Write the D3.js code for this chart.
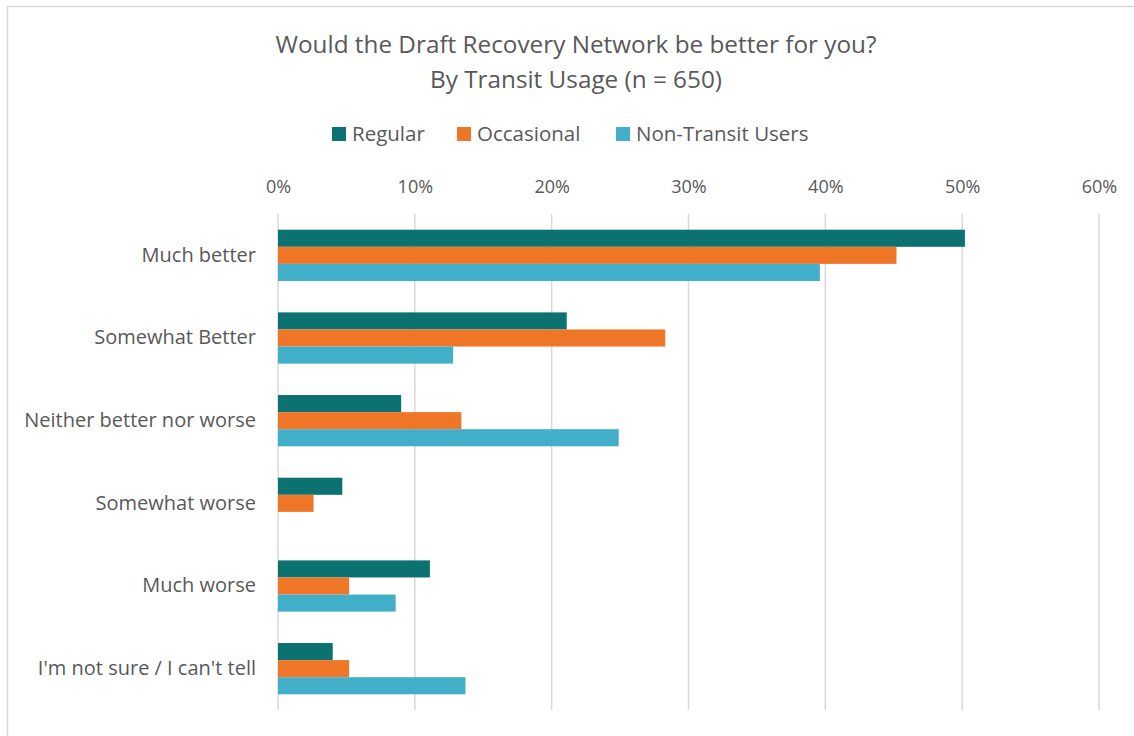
<!DOCTYPE html>
<html>
<head>
<meta charset="UTF-8">
<title>Draft Recovery Network by Transit Usage</title>
<script src="https://d3js.org/d3.v7.min.js"></script>
<style>
body { margin: 0; background: #fff; }
text { font-family: "Open Sans", "Noto Sans", sans-serif; fill: #595959; }
</style>
</head>
<body>
<div id="chart"></div>
<script>

// data

var categories = ["Much better", "Somewhat Better", "Neither better nor worse",
                  "Somewhat worse", "Much worse", "I'm not sure / I can't tell"]
var seriesNames = ["Regular", "Occasional", "Non-Transit Users"]
var regular    = [0.502, 0.211, 0.090, 0.047, 0.111, 0.040]
var occasional = [0.452, 0.283, 0.134, 0.026, 0.052, 0.052]
var nonTransit = [0.396, 0.128, 0.249, 0.000, 0.086, 0.137]
var xTicks     = [0, 0.1, 0.2, 0.3, 0.4, 0.5, 0.6]
var colours    = ["#0b7171", "#ef7627", "#42afc8"]

var width  = 1134
var height = 736
var plotLeft = 278, plotRight = 1099, plotTop = 214, plotBottom = 710

var svg = d3.select("#chart").append("svg")
	.attr("width", width)
	.attr("height", height)

// frame
svg.append("path")
	.attr("d", "M7.5," + height + "V6.5H" + width)
	.attr("fill", "none")
	.attr("stroke", "#d9d9d9")
	.attr("stroke-width", 1.5)

var x = d3.scaleLinear().domain([0, 0.6]).range([plotLeft, plotRight])
var y = d3.scaleBand().domain(categories).range([plotTop, plotBottom]).paddingInner(0.38).paddingOuter(0.19)
var ySub = d3.scaleBand().domain(seriesNames).range([0, y.bandwidth()])

// gridlines
svg.append("g").selectAll("line")
	.data(xTicks).enter()
	.append("line")
	.attr("x1", function(d) { return x(d) })
	.attr("x2", function(d) { return x(d) })
	.attr("y1", plotTop)
	.attr("y2", plotBottom)
	.attr("stroke", "#d9d9d9")
	.attr("stroke-width", 1.5)

// top axis labels
var xAxis = d3.axisTop(x).tickValues(xTicks).tickFormat(d3.format(".0%")).tickSize(0).tickPadding(0)
var gx = svg.append("g").attr("transform", "translate(0,193)").call(xAxis)
gx.select(".domain").remove()
gx.selectAll("text").style("font-size", "18px").attr("fill", "#595959")

// category labels
var yAxis = d3.axisLeft(y).tickSize(0).tickPadding(22)
var gy = svg.append("g").attr("transform", "translate(" + plotLeft + ",0)").call(yAxis)
gy.select(".domain").remove()
gy.selectAll("text").style("font-size", "20px").attr("fill", "#595959")

// bars
var rows = categories.map(function(c, i) {
	return { cat: c, vals: [regular[i], occasional[i], nonTransit[i]] }
})

var groups = svg.selectAll(".cat")
	.data(rows).enter()
	.append("g")
	.attr("class", "cat")
	.attr("transform", function(d) { return "translate(0," + y(d.cat) + ")" })

groups.selectAll("rect")
	.data(function(d) { return d.vals.map(function(v, j) { return { name: seriesNames[j], v: v, j: j } }) })
	.enter()
	.append("rect")
	.attr("x", x(0))
	.attr("y", function(d) { return ySub(d.name) })
	.attr("height", ySub.bandwidth())
	.attr("width", function(d) { return x(d.v) - x(0) })
	.attr("fill", function(d) { return colours[d.j] })

// title
svg.append("text")
	.attr("x", 576).attr("y", 53)
	.attr("text-anchor", "middle")
	.style("font-size", "24.3px")
	.text("Would the Draft Recovery Network be better for you?")
svg.append("text")
	.attr("x", 576).attr("y", 88)
	.attr("text-anchor", "middle")
	.style("font-size", "24.3px")
	.text("By Transit Usage (n = 650)")

// legend
var legendX = [332, 457, 616]
var legend = svg.selectAll(".legend")
	.data(seriesNames).enter()
	.append("g")
	.attr("class", "legend")
	.attr("transform", function(d, i) { return "translate(" + legendX[i] + ",134)" })
legend.append("rect")
	.attr("x", 0).attr("y", -7)
	.attr("width", 14).attr("height", 14)
	.attr("fill", function(d, i) { return colours[i] })
legend.append("text")
	.attr("x", 20).attr("y", 7)
	.style("font-size", "20.5px")
	.text(function(d) { return d })

</script>
</body>
</html>
